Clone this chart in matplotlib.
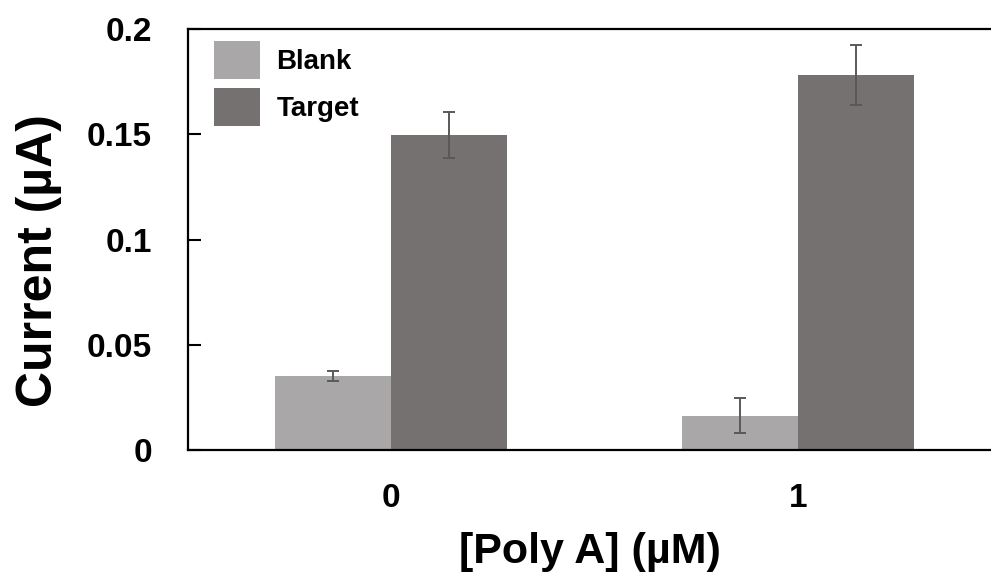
import numpy as np
import matplotlib.pyplot as plt

plt.rcParams['font.family'] = ['Liberation Sans', 'DejaVu Sans']
plt.rcParams['font.weight'] = 'bold'

# current readings (uA) for each Poly A concentration
concentrations = ["0", "1"]
blank_mean = [0.0352, 0.0163]
blank_err = [0.0024, 0.0083]
target_mean = [0.1496, 0.1782]
target_err = [0.0110, 0.0142]

BLANK_COLOR = "#a9a7a7"
TARGET_COLOR = "#767171"
ERR_COLOR = "#595959"

fig = plt.figure(figsize=(9.91, 5.74), dpi=100)
ax = fig.add_axes([0.1897, 0.216, 0.8103, 0.7335])

x = np.arange(len(concentrations))
w = 0.285
err_kw = dict(ecolor=ERR_COLOR, elinewidth=1.4, capsize=4, capthick=1.4)
ax.bar(x - w / 2, blank_mean, w, yerr=blank_err, color=BLANK_COLOR,
       label="Blank", error_kw=err_kw)
ax.bar(x + w / 2, target_mean, w, yerr=target_err, color=TARGET_COLOR,
       label="Target", error_kw=err_kw)

ax.set_xlim(-0.5, 1.474)
ax.set_ylim(0, 0.2)
ax.set_yticks([0, 0.05, 0.1, 0.15, 0.2])
ax.set_yticklabels(["0", "0.05", "0.1", "0.15", "0.2"])
ax.set_xticks(x)
ax.set_xticklabels(concentrations)

ax.tick_params(axis="y", direction="in", length=9, width=1.5, pad=26,
               labelsize=24)
ax.tick_params(axis="x", length=0, pad=24, labelsize=24)
for lbl in ax.get_xticklabels() + ax.get_yticklabels():
    lbl.set_fontweight("bold")

for side in ("left", "bottom", "top"):
    ax.spines[side].set_linewidth(1.6)
ax.spines["right"].set_visible(False)

ax.set_xlabel("[Poly A] (\u00b5M)", fontsize=31, fontweight="bold", labelpad=13)
ax.set_ylabel("Current (\u00b5A)", fontsize=36, fontweight="bold")
ax.yaxis.set_label_coords(-0.157, 0.451)

ax.legend(loc="upper left", bbox_to_anchor=(0.0324, 0.9715), frameon=False,
          fontsize=20, handlelength=1.65, handleheight=1.73,
          handletextpad=0.6, labelspacing=0.32, borderpad=0,
          borderaxespad=0)

fig.savefig("out.png", dpi=100)
